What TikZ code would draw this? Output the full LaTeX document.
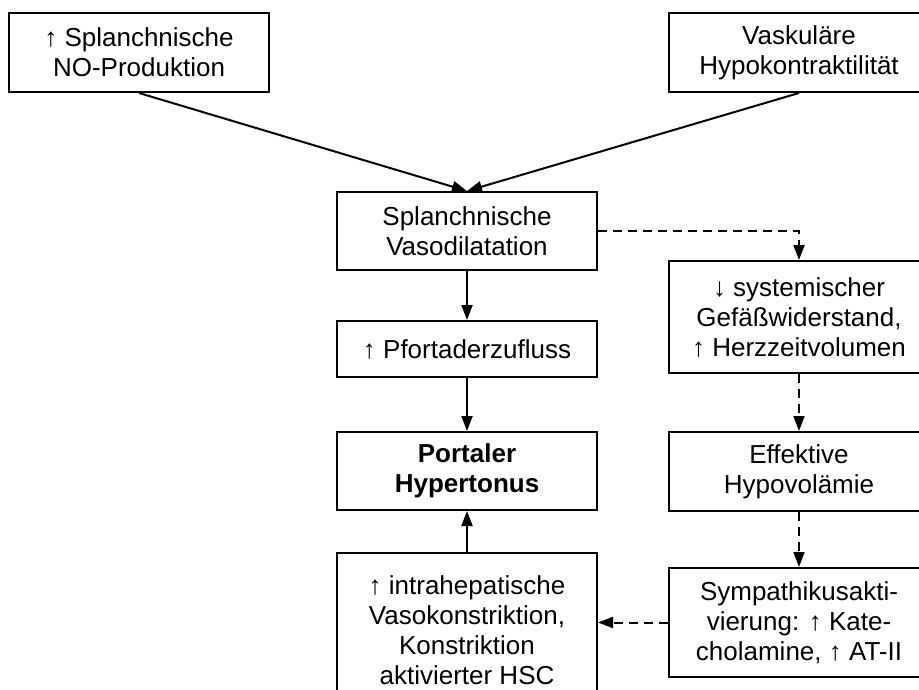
\documentclass[tikz,border=0pt]{standalone}
\usepackage{fontspec}
\setmainfont{Liberation Sans}
\usetikzlibrary{arrows.meta}
\begin{document}
\begin{tikzpicture}[x=1pt,y=-1pt,
  box/.style={draw, line width=2pt, minimum width=260pt, align=center, inner sep=0pt,
    font=\fontsize{26}{30}\selectfont},
  conn/.style={line width=2pt, -{Triangle[length=15pt,width=11pt]}},
  dconn/.style={conn, dash pattern=on 9pt off 6pt}]
\useasboundingbox (0,0) rectangle (919,689);
\clip (0,0) rectangle (919,689);
\node[box, minimum height=79pt] (A) at (139,52.5) {↑ Splanchnische\\NO-Produktion};
\node[box, minimum height=79pt] (B) at (799,52.5) {Vaskuläre\\Hypokontraktilität};
\node[box, minimum height=78pt] (C) at (467,231) {Splanchnische\\Vasodilatation};
\node[box, minimum height=56pt] (D) at (467,349) {↑ Pfortaderzufluss};
\node[box, minimum height=78pt] (E) at (467,471) {\bfseries Portaler\\\bfseries Hypertonus};
\node[box, minimum height=154pt] (F) at (467,630) {↑ intrahepatische\\Vasokonstriktion,\\Konstriktion\\aktivierter HSC};
\node[box, minimum height=112pt] (G) at (799,317) {↓ systemischer\\Gefäßwiderstand,\\↑ Herzzeitvolumen};
\node[box, minimum height=79pt] (H) at (799,471.5) {Effektive\\Hypovolämie};
\node[box, minimum height=109pt] (I) at (799,622.5) {Sympathikusakti-\\vierung: ↑ Kate-\\cholamine, ↑ AT-II};
\draw[conn] (A.south) -- (C.north);
\draw[conn] (B.south) -- (C.north);
\draw[conn] (C.south) -- (D.north);
\draw[conn] (D.south) -- (E.north);
\draw[conn] (F.north) -- (E.south);
\draw[dconn] (C.east) -| (G.north);
\draw[dconn] (G.south) -- (H.north);
\draw[dconn] (H.south) -- (I.north);
\draw[dconn] (I.west) -- (I.west -| F.east);
\end{tikzpicture}
\end{document}
